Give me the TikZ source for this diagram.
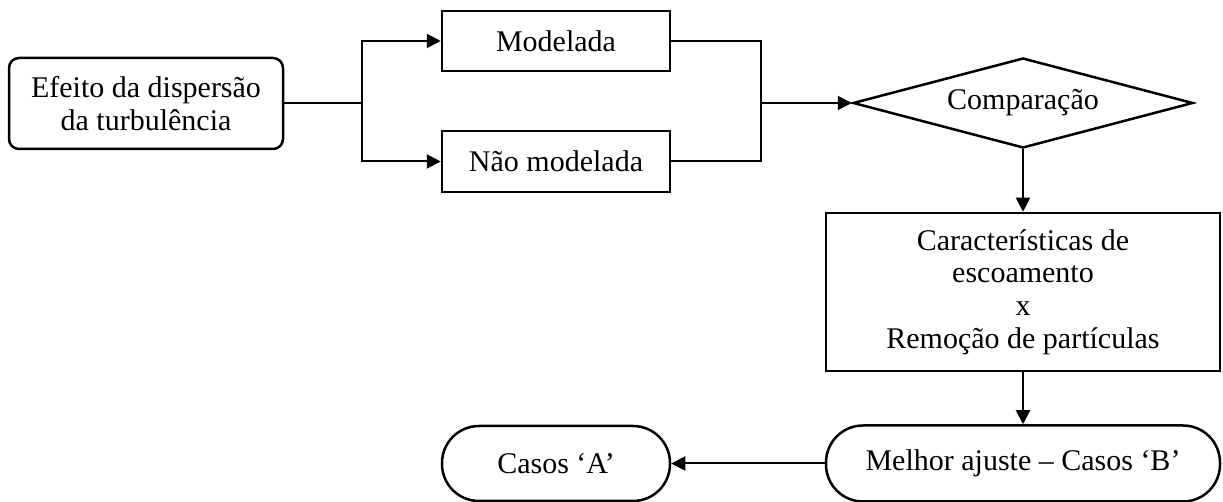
\documentclass[tikz,border=0pt]{standalone}
\usepackage{fontspec}
\setmainfont{Liberation Serif}
\usetikzlibrary{shapes.geometric,arrows.meta}
\begin{document}
\begin{tikzpicture}[x=0.5pt,y=-0.5pt,
  every node/.style={font=\fontsize{15pt}{16.4pt}\selectfont, align=center, inner sep=0pt},
  box/.style={draw, line width=1.25pt, minimum width=114pt, minimum height=30pt},
  roundbox/.style={draw, line width=1.25pt, rounded corners=5pt},
  stadium/.style={draw, line width=1.25pt, rounded corners=18.5pt},
  decision/.style={draw, diamond, aspect=3.78, line width=1.25pt, minimum width=170pt, minimum height=45pt},
  link/.style={line width=1pt},
  arr/.style={link, -{Triangle[length=7pt,width=7pt]}}]
  \useasboundingbox (0,0) rectangle (1223,502);

  % process nodes
  \node[roundbox, minimum width=137pt, minimum height=45.5pt] (eff) at (146,103.5)
    {Efeito da dispersão\\da turbulência};
  \node[box] (mod) at (556,41) {Modelada};
  \node[box, minimum height=30.5pt] (nao) at (556,161.5) {Não modelada};
  \node[decision] (cmp) at (1023,103) {Comparação};
  \node[draw, line width=1.25pt, minimum width=197pt, minimum height=79pt] (car) at (1023,292)
    {Características de\\escoamento\\x\\Remoção de partículas};
  \node[stadium, minimum width=197pt, minimum height=38pt] (best) at (1023,463.5)
    {Melhor ajuste – Casos ‘B’};
  \node[stadium, minimum width=114pt, minimum height=37.5pt] (casA) at (556,463.5)
    {Casos ‘A’};

  % branch and join points
  \coordinate (split) at (362,103.5);
  \coordinate (merge) at (761,103);

  % connectors
  \draw[link] (eff.east) -- (split);
  \draw[arr] (split) |- (mod.west);
  \draw[arr] (split) |- (nao.west);
  \draw[link] (mod.east) -| (merge);
  \draw[link] (nao.east) -| (merge);
  \draw[arr] (merge) -- (cmp.west);
  \draw[arr] (cmp.south) -- (car.north);
  \draw[arr] (car.south) -- (best.north);
  \draw[arr] (best.west) -- (casA.east);
\end{tikzpicture}
\end{document}
